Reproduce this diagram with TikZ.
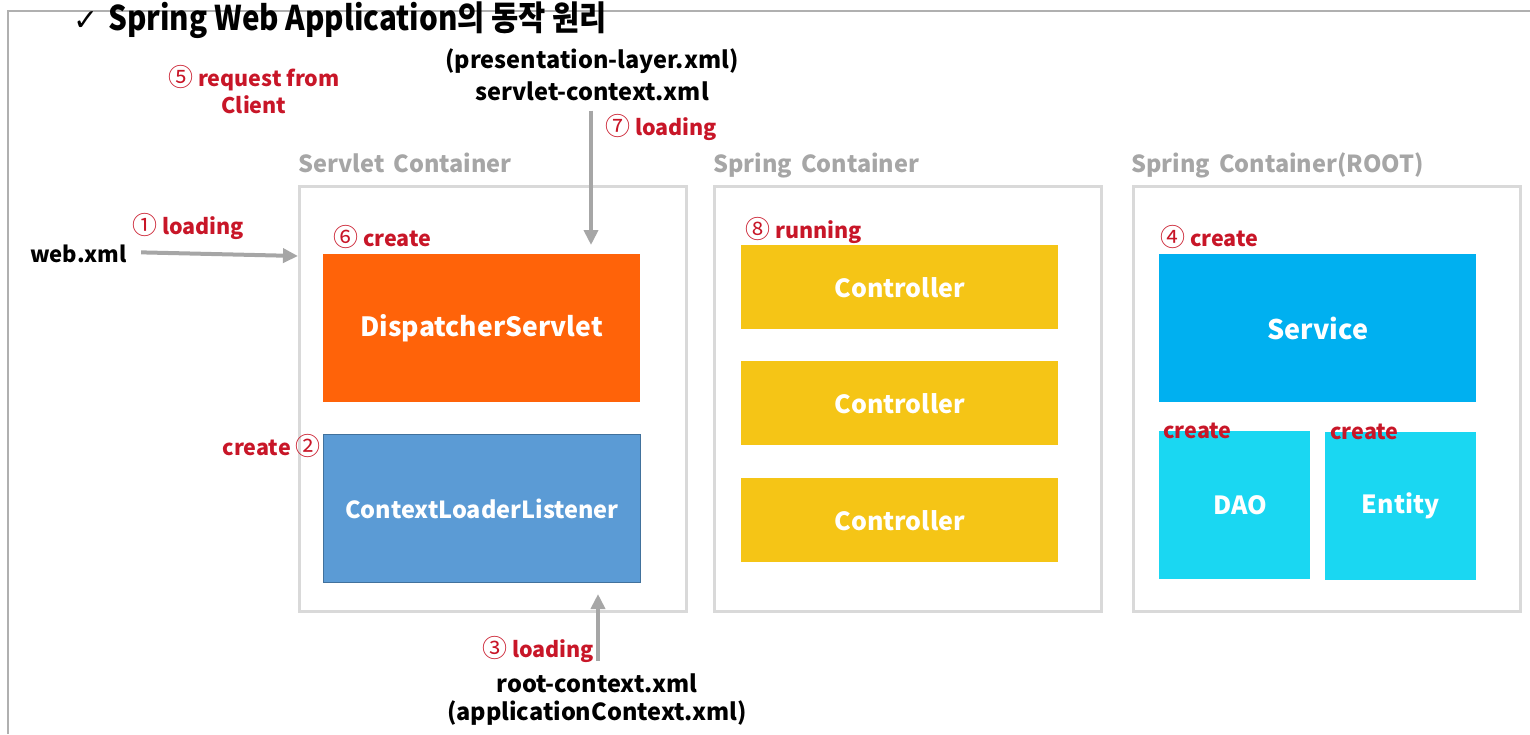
\documentclass[tikz,border=0pt]{standalone}
\usepackage{fontspec}
\setmainfont{Noto Sans CJK KR}
\newfontfamily\symfont{DejaVu Sans}
\usetikzlibrary{positioning,calc,arrows.meta}

\definecolor{labred}{RGB}{200,22,40}
\definecolor{boxgray}{RGB}{217,217,217}
\definecolor{txtgray}{RGB}{166,166,166}
\definecolor{framegray}{RGB}{176,176,176}
\definecolor{dispor}{RGB}{255,99,9}
\definecolor{ctxblue}{RGB}{91,155,213}
\definecolor{ctxedge}{RGB}{65,113,156}
\definecolor{ctlyel}{RGB}{245,197,22}
\definecolor{svcblue}{RGB}{0,176,240}
\definecolor{daocyan}{RGB}{26,215,242}

\tikzset{
	container/.style={draw=boxgray, line width=2.5pt, minimum width=387pt, minimum height=425pt, anchor=north west, inner sep=0pt},
	cname/.style={text=txtgray, font=\bfseries\fontsize{23.5}{26}\selectfont, anchor=base west, inner sep=0pt},
	comp/.style={inner sep=0pt, anchor=north west, text=white, font=\bfseries\fontsize{25}{28}\selectfont},
	redlbl/.style={text=labred, font=\bfseries\fontsize{21.5}{24}\selectfont, inner sep=0pt, anchor=base west},
	xmlfile/.style={font=\bfseries\fontsize{23.5}{26}\selectfont, inner sep=0pt, anchor=base},
	grayarrow/.style={draw=txtgray, line width=4pt, -{Triangle[length=15pt,width=14pt]}},
}
\newcommand{\cnum}[1]{{\mdseries\fontsize{25}{26}\selectfont #1}}

\begin{document}
\begin{tikzpicture}[x=1pt,y=-1pt]
\useasboundingbox (0,0) rectangle (1530,734);
% frame and title
\draw[framegray, line width=2pt] (8,734) -- (8,11) -- (1530,11);
\node[anchor=base west, inner sep=0pt, font=\bfseries\fontsize{34}{36}\selectfont] (title) at (73,30)
	{{\mdseries\symfont\fontsize{30}{32}\selectfont ✓}\hspace{10pt}\scalebox{0.87}[1]{Spring Web Application의 동작 원리}};

% containers
\node[container] (servlet) at (298,185){};
\node[container] (spring) at (713,185){};
\node[container] (root) at (1132,185){};
\node[cname] at (298,172){Servlet\hspace{9pt}Container};
\node[cname] at (713,172){Spring\hspace{9pt}Container};
\node[cname] at (1131,172){Spring\hspace{9pt}Container(ROOT)};

% components
\node[comp, fill=dispor, minimum width=317pt, minimum height=148pt, font=\bfseries\fontsize{26.5}{28}\selectfont] (disp) at (323,254){DispatcherServlet};
\node[comp, fill=ctxblue, draw=ctxedge, line width=1pt, minimum width=317pt, minimum height=148pt, font=\bfseries\fontsize{23.5}{26}\selectfont] (cll) at (323,434){ContextLoaderListener};
\foreach \y/\n in {245/1,361/2,478/3}
	\node[comp, fill=ctlyel, minimum width=317pt, minimum height=84pt] (ctl\n) at (741,\y){Controller};
\node[comp, fill=svcblue, minimum width=317pt, minimum height=148pt, font=\bfseries\fontsize{27}{28}\selectfont] (svc) at (1159,254){Service};
\node[comp, fill=daocyan, minimum width=151pt, minimum height=148pt] (dao) at (1159,431){\hspace{12pt}DAO};
\node[comp, fill=daocyan, minimum width=151pt, minimum height=148pt] (ent) at (1325,432){Entity};

% step labels
\node[redlbl] at (132,234){\cnum{①} loading};
\node[redlbl, anchor=base east] at (321,455){create \cnum{②}};
\node[redlbl] at (482,657){\cnum{③} loading};
\node[redlbl] at (1160,246){\cnum{④} create};
\node[redlbl, anchor=base] at (254,86){\cnum{⑤} request from};
\node[redlbl, anchor=base] at (254,113){Client};
\node[redlbl] at (333,246){\cnum{⑥} create};
\node[redlbl] at (605,135){\cnum{⑦} loading};
\node[redlbl] at (745,238){\cnum{⑧} running};
\node[redlbl] at (1163,438){create};
\node[redlbl] at (1330,439){create};

% xml files
\node[xmlfile, anchor=base west, font=\bfseries\fontsize{22}{26}\selectfont] (webxml) at (30,262){web.xml};
\node[xmlfile] (prsxml) at (592,68){(presentation-layer.xml)};
\node[xmlfile] (srvctx) at (592,100){servlet-context.xml};
\node[xmlfile] (rootctx) at (597,692){root-context.xml};
\node[xmlfile] (appctx) at (597,720){(applicationContext.xml)};

% loading arrows
\coordinate (dsptop) at (591,245);
\coordinate (clltip) at (598,594);
\draw[grayarrow] ($(webxml.east)+(14,-1)$) -- ($(servlet.north west)+(0,71)$);
\draw[grayarrow] (srvctx.south -| dsptop) ++(0,10) -- (dsptop);
\draw[grayarrow] (rootctx.north -| clltip) ++(0,-12) -- (clltip);
\end{tikzpicture}
\end{document}
